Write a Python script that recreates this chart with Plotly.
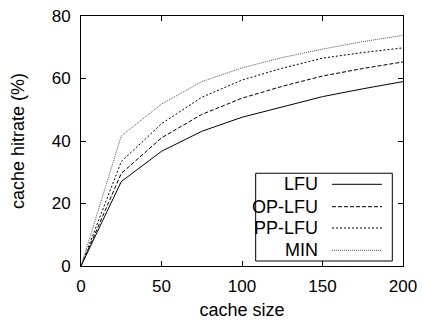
import plotly.graph_objects as go

cache_size = [0, 25, 50, 75, 100, 125, 150, 175, 200]
lfu = [0, 27.0, 36.7, 43.1, 47.6, 51.0, 54.2, 56.7, 59.0]
op_lfu = [0, 29.6, 41.0, 48.5, 53.7, 57.5, 60.8, 63.2, 65.3]
pp_lfu = [0, 33.4, 45.5, 54.0, 59.5, 63.3, 66.5, 68.3, 69.8]
min_hr = [0, 41.6, 51.8, 59.0, 63.4, 66.7, 69.4, 71.8, 73.8]

series_names = ["LFU", "OP-LFU", "PP-LFU", "MIN"]
series_values = [lfu, op_lfu, pp_lfu, min_hr]
dashes = ["solid", "4px,2px", "2px,2px", "1px,1px"]
colors = ["#000000", "#000000", "#000000", "#555555"]

x_ticks = [0, 50, 100, 150, 200]
y_ticks = [0, 20, 40, 60, 80]

FONT = "Liberation Sans, Arial, sans-serif"

fig = go.Figure()
for name, vals, dash, col in zip(series_names, series_values, dashes, colors):
    fig.add_trace(go.Scatter(x=cache_size, y=vals, mode="lines", name=name,
                             line=dict(color=col, width=1, dash=dash),
                             showlegend=False, hoverinfo="skip"))

# Manual gnuplot-style legend
box = dict(x0=0.5425, x1=0.9668, y0=0.02, y1=0.371)
fig.add_shape(type="rect", xref="paper", yref="paper", **box,
              line=dict(color="black", width=1), fillcolor="white", layer="above")
entry_y = [0.3268, 0.2372, 0.152, 0.0628]
for name, ey, dash, col in zip(series_names, entry_y, dashes, colors):
    fig.add_annotation(x=0.742, y=ey, xref="paper", yref="paper", text=name,
                       showarrow=False, xanchor="right", yanchor="middle",
                       font=dict(family=FONT, size=18, color="black"))
    fig.add_shape(type="line", xref="paper", yref="paper", x0=0.7795, x1=0.9348,
                  y0=ey, y1=ey, line=dict(color=col, width=1, dash=dash), layer="above")

axis_common = dict(showgrid=False, zeroline=False, showline=True, linecolor="black",
                   linewidth=1, mirror="ticks", ticks="inside", ticklen=5,
                   tickcolor="black", tickfont=dict(family=FONT, size=17, color="black"),
                   ticklabeloverflow="allow", automargin=False)

fig.update_xaxes(range=[0, 200], tickvals=x_ticks, ticktext=[str(v) for v in x_ticks],
                 title=dict(text="cache size", font=dict(family=FONT, size=18, color="black"), standoff=15),
                 ticklabelstandoff=5, **axis_common)
fig.update_yaxes(range=[0, 80], tickvals=y_ticks, ticktext=[str(v) for v in y_ticks],
                 title=dict(text="cache hitrate (%)", font=dict(family=FONT, size=18, color="black"), standoff=22),
                 ticklabelstandoff=6, **axis_common)

fig.update_layout(width=422, height=320, margin=dict(l=81, r=19, t=16, b=54),
                  plot_bgcolor="white", paper_bgcolor="white",
                  font=dict(family=FONT, size=17, color="black"))

fig.write_html("out.html", config={"displayModeBar": False},
               post_script="document.body.style.margin='0';document.body.style.overflow='hidden';"
                           "document.documentElement.style.overflow='hidden';")
